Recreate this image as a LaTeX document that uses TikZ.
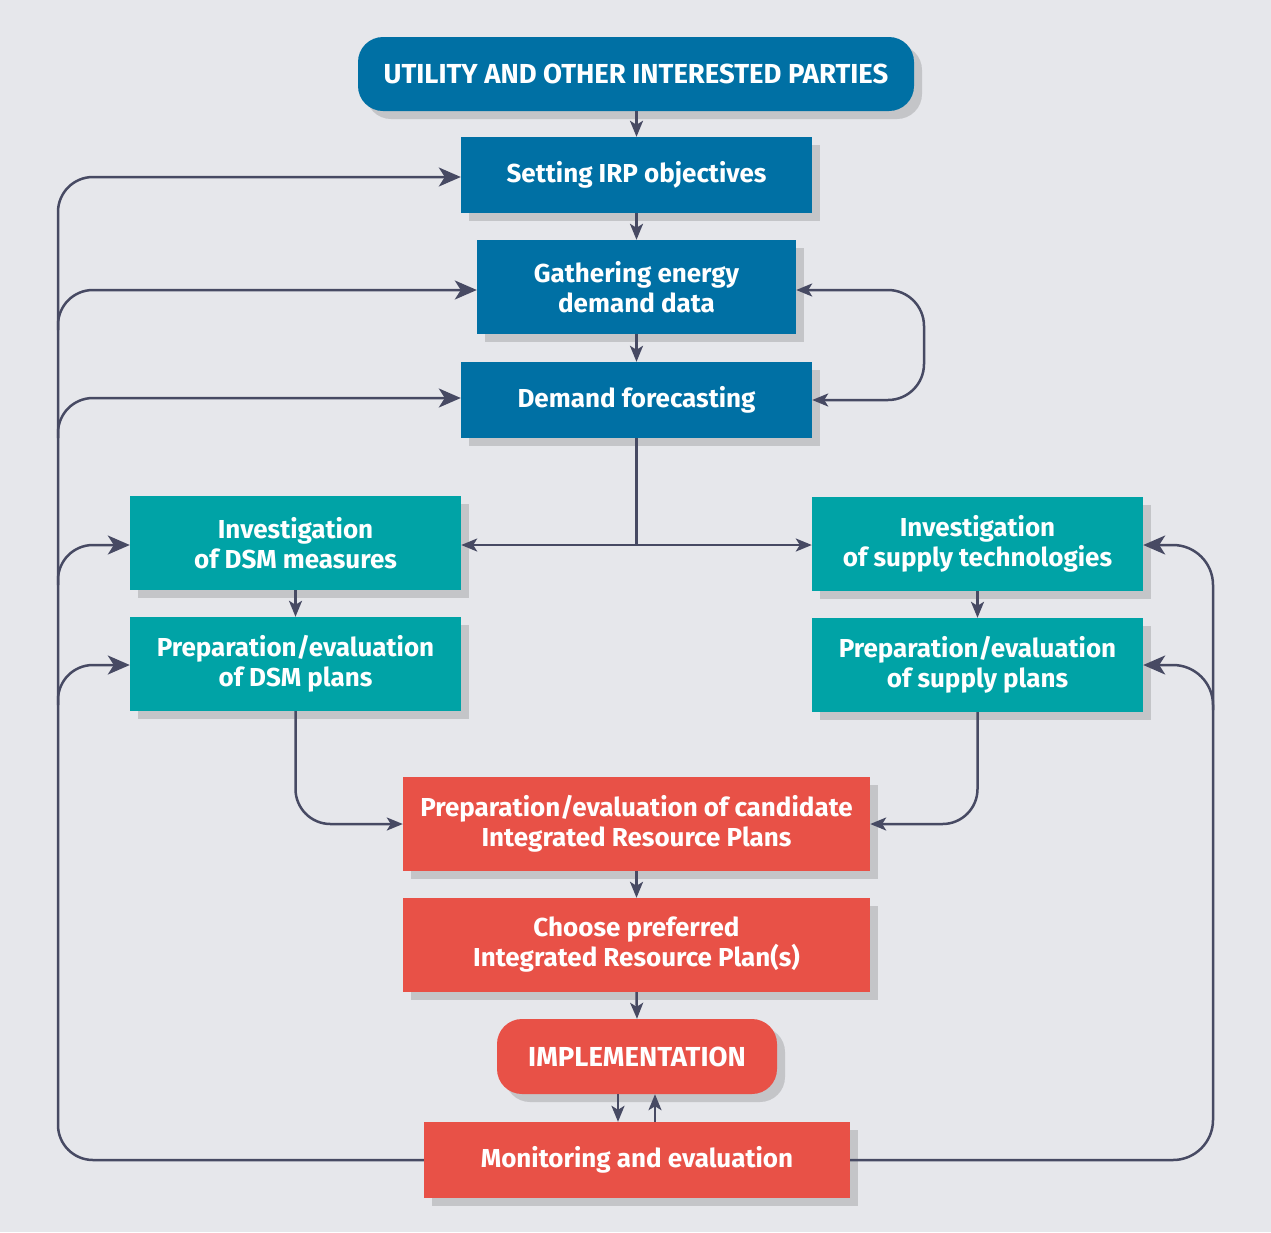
\documentclass[tikz,border=0pt]{standalone}
\usepackage{fontspec}
\setmainfont{Fira Sans}
\usetikzlibrary{arrows.meta,shadows}

\definecolor{canvasgray}{RGB}{230,231,235}
\definecolor{irpblue}{RGB}{0,112,164}
\definecolor{irpteal}{RGB}{0,163,166}
\definecolor{irpred}{RGB}{232,81,71}
\definecolor{shadegray}{RGB}{196,197,200}
\definecolor{wire}{RGB}{71,74,99}

\tikzset{
  box/.style={rectangle, inner sep=0pt, text=white, align=center,
    font=\fontsize{26}{30}\selectfont\bfseries,
    drop shadow={shadow xshift=8pt, shadow yshift=-8pt, fill=shadegray, opacity=1}},
  bluebox/.style={box, fill=irpblue},
  tealbox/.style={box, fill=irpteal},
  redbox/.style={box, fill=irpred},
  capsule/.style={rounded corners=25pt, font=\fontsize{27.5}{30}\selectfont\bfseries},
  link/.style={draw=wire, line width=2.5pt,
    -{Stealth[length=16pt,width=13pt,inset=4pt]}},
  biglink/.style={draw=wire, line width=2.5pt,
    -{Stealth[length=22pt,width=19pt,inset=6pt]}},
  plain/.style={draw=wire, line width=2.5pt},
}

\begin{document}
\begin{tikzpicture}[x=1pt,y=-1pt]
  % background
  \fill[canvasgray] (0,0) rectangle (1271,1232);
  \useasboundingbox (0,0) rectangle (1271,1232);

  % planning steps
  \node[bluebox, capsule, minimum width=556pt, minimum height=74pt] (parties) at (636,74)
    {UTILITY AND OTHER INTERESTED PARTIES};
  \node[bluebox, minimum width=351pt, minimum height=76pt] (objectives) at (636.5,175)
    {Setting IRP objectives};
  \node[bluebox, minimum width=319pt, minimum height=94pt] (gather) at (636.5,287)
    {Gathering energy\\demand data};
  \node[bluebox, minimum width=351pt, minimum height=76pt] (forecast) at (636.5,400)
    {Demand forecasting};

  \node[tealbox, minimum width=331pt, minimum height=94pt] (dsmA) at (295.5,543)
    {Investigation\\of DSM measures};
  \node[tealbox, minimum width=331pt, minimum height=94pt] (dsmB) at (295.5,664)
    {Preparation/evaluation\\of DSM plans};
  \node[tealbox, minimum width=331pt, minimum height=94pt] (supA) at (977.5,544)
    {Investigation\\of supply technologies};
  \node[tealbox, minimum width=331pt, minimum height=94pt] (supB) at (977.5,665)
    {Preparation/evaluation\\of supply plans};

  \node[redbox, minimum width=467pt, minimum height=94pt] (cand) at (636.5,824)
    {Preparation/evaluation of candidate\\Integrated Resource Plans};
  \node[redbox, minimum width=467pt, minimum height=94pt] (choose) at (636.5,945)
    {Choose preferred\\Integrated Resource Plan(s)};
  \node[redbox, capsule, minimum width=280pt, minimum height=75pt] (impl) at (637,1056.5)
    {IMPLEMENTATION};
  \node[redbox, minimum width=426pt, minimum height=76pt] (monitor) at (637,1160)
    {Monitoring and evaluation};

  % main vertical flow
  \draw[link] (parties.south -| objectives.north) -- (objectives.north);
  \draw[link] (objectives.south) -- (gather.north);
  \draw[link] (gather.south) -- (forecast.north);

  % forecasting splits into demand-side and supply-side branches
  \coordinate (split) at (636.5,545);
  \draw[plain] (forecast.south) -- (split);
  \draw[link] (split) -- (split -| dsmA.east);
  \draw[link] (split) -- (split -| supA.west);
  \draw[link] (dsmA.south) -- (dsmB.north);
  \draw[link] (supA.south) -- (supB.north);

  % branches merge into candidate plans
  \draw[link, rounded corners=35pt] (dsmB.south) -- (dsmB.south |- cand.west) -- (cand.west);
  \draw[link, rounded corners=35pt] (supB.south) -- (supB.south |- cand.east) -- (cand.east);
  \draw[link] (cand.south) -- (choose.north);
  \draw[link] (choose.south) -- (impl.north);

  % implementation and monitoring exchange
  \draw[link] ([xshift=-19pt]impl.south) -- ([xshift=-19pt]monitor.north);
  \draw[link] ([xshift=18pt]monitor.north) -- ([xshift=18pt]impl.south);

  % feedback between data gathering and forecasting
  \coordinate (gloopA) at (924,290);
  \coordinate (gloopB) at (924,400);
  \draw[draw=wire, line width=2.5pt, rounded corners=36pt,
    {Stealth[length=16pt,width=13pt,inset=4pt]}-{Stealth[length=16pt,width=13pt,inset=4pt]}]
    (gloopA -| gather.east) -- (gloopA) -- (gloopB) -- (forecast.east);

  % left feedback loop from monitoring
  \coordinate (lbot) at (58,1160);
  \coordinate (ltop) at (58,177);
  \draw[biglink, rounded corners=35pt] (monitor.west) -- (lbot) -- (ltop) -- (ltop -| objectives.west);
  \coordinate (lgather) at (58,290);
  \coordinate (lforecast) at (58,398);
  \coordinate (ldsmA) at (58,545);
  \coordinate (ldsmB) at (58,665);
  \draw[biglink, rounded corners=35pt] ([yshift=-40pt]lgather) -- (lgather) -- (lgather -| gather.west);
  \draw[biglink, rounded corners=35pt] ([yshift=-40pt]lforecast) -- (lforecast) -- (lforecast -| forecast.west);
  \draw[biglink, rounded corners=35pt] ([yshift=-40pt]ldsmA) -- (ldsmA) -- (ldsmA -| dsmA.west);
  \draw[biglink, rounded corners=35pt] ([yshift=-40pt]ldsmB) -- (ldsmB) -- (ldsmB -| dsmB.west);

  % right feedback loop from monitoring
  \coordinate (rbot) at (1213,1160);
  \coordinate (rtop) at (1213,545);
  \draw[biglink, rounded corners=40pt] (monitor.east) -- (rbot) -- (rtop) -- (rtop -| supA.east);
  \coordinate (rsupB) at (1213,665);
  \draw[biglink, rounded corners=40pt] ([yshift=-45pt]rsupB) -- (rsupB) -- (rsupB -| supB.east);
\end{tikzpicture}
\end{document}
